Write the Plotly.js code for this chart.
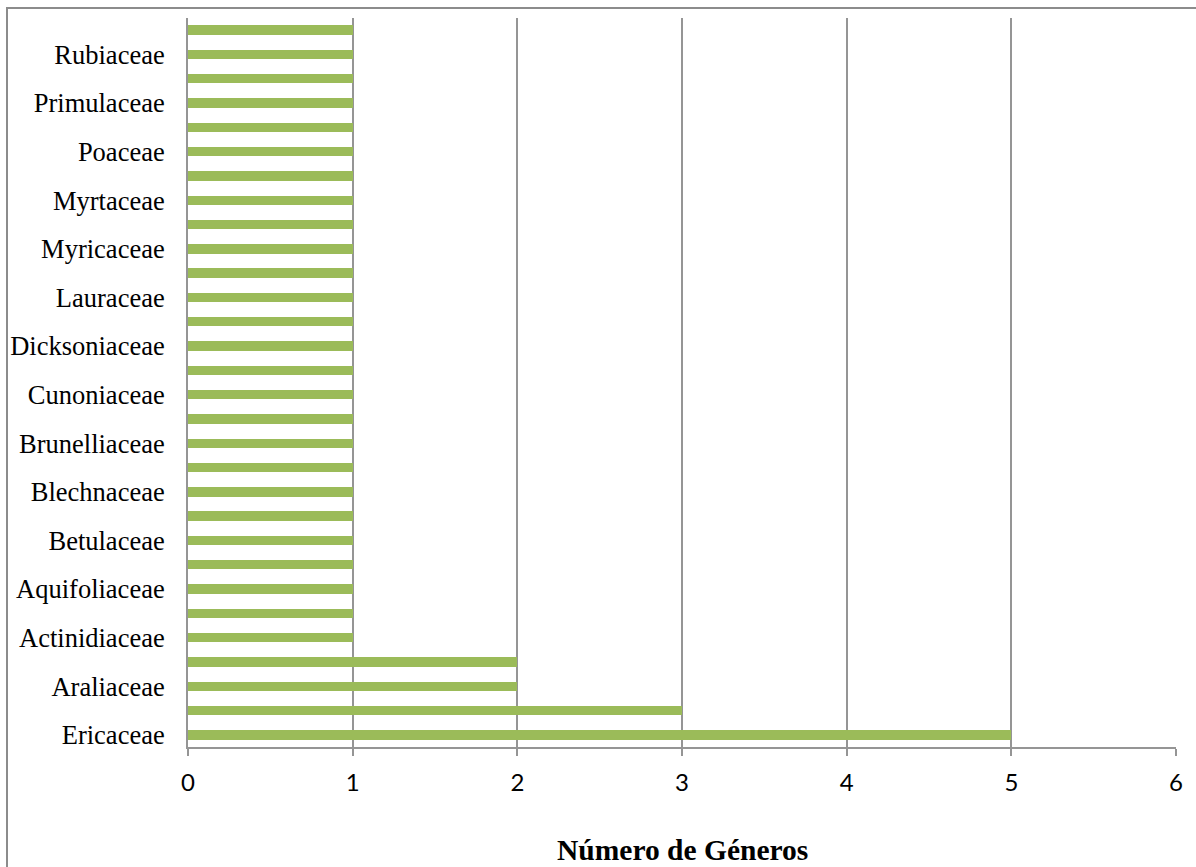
<!DOCTYPE html>
<html>
<head>
<meta charset="utf-8">
<script src="https://cdn.plot.ly/plotly-3.0.1.min.js"></script>
<style>
html,body{margin:0;padding:0;background:#fff;}
#frame{position:absolute;left:6px;top:7px;width:1300px;height:1000px;border-left:2px solid #8c8c8c;border-top:2px solid #8c8c8c;pointer-events:none;}
#chart{position:absolute;left:0;top:0;width:1196px;height:867px;}
</style>
</head>
<body>
<div id="chart"></div>
<div id="frame"></div>
<script>
// Bars listed from bottom to top; only every other bar carries a label in the original.
const generos = [5, 3, 2, 2, 1, 1, 1, 1, 1, 1, 1, 1, 1, 1, 1, 1, 1, 1, 1, 1, 1, 1, 1, 1, 1, 1, 1, 1, 1, 1];
const etiquetas = ["Ericaceae", "Araliaceae", "Actinidiaceae", "Aquifoliaceae", "Betulaceae",
  "Blechnaceae", "Brunelliaceae", "Cunoniaceae", "Dicksoniaceae", "Lauraceae",
  "Myricaceae", "Myrtaceae", "Poaceae", "Primulaceae", "Rubiaceae"];
const xTicks = [0, 1, 2, 3, 4, 5, 6];
const tituloX = "Número de Géneros";

const pos = generos.map((v, i) => i);
const labelPos = etiquetas.map((e, i) => i * 2);

const trace = {
  type: 'bar',
  orientation: 'h',
  x: generos,
  y: pos,
  width: 0.39,
  marker: {color: '#9bbb59', line: {width: 0}},
  hoverinfo: 'x'
};

const layout = {
  width: 1196, height: 867,
  margin: {l: 188, r: 20, t: 18, b: 120},
  paper_bgcolor: 'rgba(0,0,0,0)',
  plot_bgcolor: '#ffffff',
  showlegend: false,
  bargap: 0,
  xaxis: {
    range: [0, 6],
    tickvals: xTicks,
    ticktext: xTicks.map(String),
    showgrid: true,
    gridcolor: '#959595',
    gridwidth: 2,
    zeroline: false,
    showline: true,
    linecolor: '#959595',
    linewidth: 2,
    ticks: 'outside',
    ticklen: 7,
    tickwidth: 2,
    tickcolor: '#959595',
    ticklabelstandoff: 6,
    tickfont: {family: 'Lato, Carlito, sans-serif', size: 24, color: '#000'},
    fixedrange: true
  },
  yaxis: {
    range: [-0.5, 29.5],
    tickvals: labelPos,
    ticktext: etiquetas,
    showgrid: false,
    zeroline: false,
    showline: true,
    linecolor: '#959595',
    linewidth: 2,
    ticks: '',
    ticklabelstandoff: 16,
    tickfont: {family: '"Liberation Serif", "Times New Roman", serif', size: 26.5, color: '#000'},
    fixedrange: true
  },
  annotations: [{
    text: '<b>' + tituloX + '</b>',
    xref: 'paper', yref: 'paper',
    x: 0.5, y: -(850 - 747) / 729,
    xanchor: 'center', yanchor: 'middle',
    showarrow: false,
    font: {family: '"Liberation Serif", "Times New Roman", serif', size: 29.5, color: '#000'}
  }]
};

Plotly.newPlot('chart', [trace], layout, {displayModeBar: false, staticPlot: true});
</script>
</body>
</html>
